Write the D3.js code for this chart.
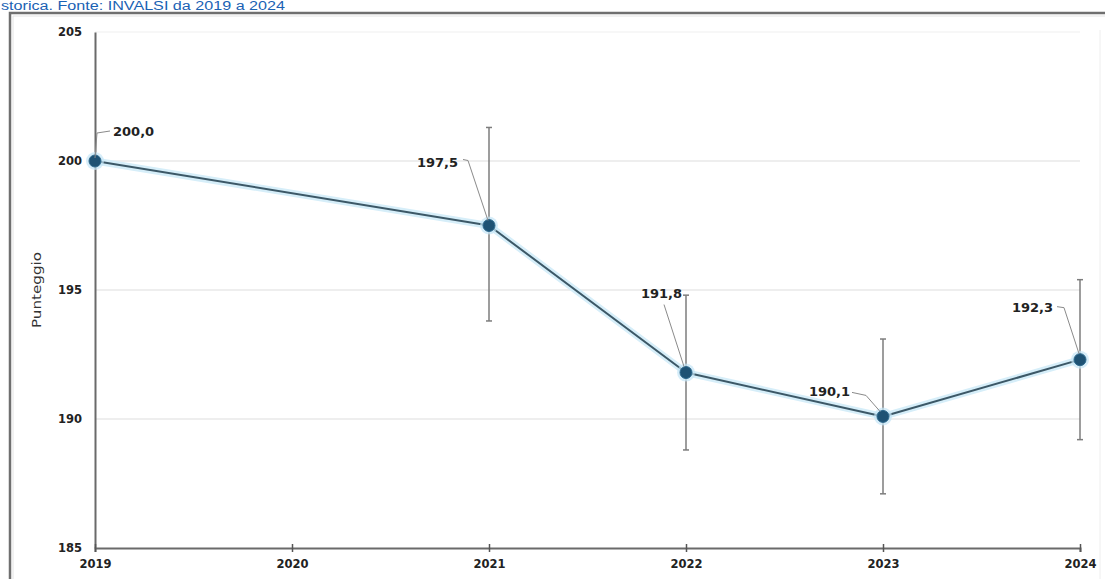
<!DOCTYPE html>
<html>
<head>
<meta charset="utf-8">
<script src="https://cdn.jsdelivr.net/npm/d3@7/dist/d3.min.js"></script>
<style>
html,body{margin:0;padding:0;background:#fff;overflow:hidden;}
svg{display:block;}
</style>
</head>
<body>
<svg id="chart" width="1105" height="579"></svg>
<script>
// ---- data ----
const titleText = "storica. Fonte: INVALSI da 2019 a 2024";
const yAxisTitle = "Punteggio";
const years = [2019, 2021, 2022, 2023, 2024];
const scores = [200.0, 197.5, 191.8, 190.1, 192.3];
const ciLow = [null, 193.8, 188.8, 187.1, 189.2];
const ciHigh = [null, 201.3, 194.8, 193.1, 195.4];
const xTickValues = [2019, 2020, 2021, 2022, 2023, 2024];
const yTickValues = [185, 190, 195, 200, 205];

// label placement (relative to the point): text anchor and leader path
const labelLayout = [
  {dx: 18, dy: -25, anchor: "start", leader: [[0,-3],[2,-28],[15,-30]]},
  {dx: -31, dy: -59, anchor: "end", leader: [[-26,-66],[-21,-65],[-1,-5]]},
  {dx: -4, dy: -75, anchor: "end", leader: [[-22,-68],[-2,-6]]},
  {dx: -33, dy: -20, anchor: "end", leader: [[-31,-24],[-17,-21],[-3,-5]]},
  {dx: -27, dy: -48, anchor: "end", leader: [[-23,-53],[-16,-52],[-1,-6]]}
];

const svg = d3.select("#chart");
const x = d3.scaleLinear().domain([2019, 2024]).range([95, 1080]);
const y = d3.scaleLinear().domain([185, 205]).range([548, 32]);
const fmt = v => d3.format(".1f")(v).replace(".", ",");

// title (top strip)
svg.append("text")
  .attr("x", 1).attr("y", 10)
  .attr("font-family", "'Liberation Sans', Arial, sans-serif")
  .attr("font-size", 12)
  .attr("textLength", 284).attr("lengthAdjust", "spacingAndGlyphs")
  .attr("fill", "#1a62b4")
  .text(titleText);

// frame
svg.append("path")
  .attr("d", "M10,579 L10,13 L1105,13")
  .attr("fill", "none").attr("stroke", "#6f6f6f").attr("stroke-width", 2.5);
svg.append("path")
  .attr("d", "M13,579 L13,16 L1105,16")
  .attr("fill", "none").attr("stroke", "#e4e4e4").attr("stroke-width", 1);
svg.append("line")
  .attr("x1", 1100).attr("x2", 1100).attr("y1", 30).attr("y2", 579)
  .attr("stroke", "#eeeeee").attr("stroke-width", 1);

// gridlines
svg.append("g")
  .selectAll("line")
  .data(yTickValues.filter(v => v > 185))
  .join("line")
  .attr("x1", x(2019)).attr("x2", x(2024))
  .attr("y1", d => y(d)).attr("y2", d => y(d))
  .attr("stroke", d => d === 205 ? "#f0f0f0" : "#dddddd")
  .attr("stroke-width", 1.2);

// y axis
const yAxis = svg.append("g")
  .attr("transform", `translate(${x(2019)},0)`)
  .call(d3.axisLeft(y).tickValues(yTickValues).tickSize(0).tickPadding(13).tickFormat(d3.format("d")));
yAxis.select(".domain").attr("stroke", "#6a6a6a").attr("stroke-width", 2);
yAxis.selectAll("text")
  .attr("font-family", "'DejaVu Sans', Verdana, sans-serif")
  .attr("font-weight", "bold").attr("font-size", 11.5).attr("fill", "#222");

// x axis
const xAxis = svg.append("g")
  .attr("transform", `translate(0,${y(185)})`)
  .call(d3.axisBottom(x).tickValues(xTickValues).tickSize(4).tickPadding(8).tickFormat(d3.format("d")));
xAxis.select(".domain").attr("stroke", "#6a6a6a").attr("stroke-width", 2);
xAxis.selectAll(".tick line").attr("y1", -4).attr("y2", 4).attr("stroke", "#555").attr("stroke-width", 1.5);
xAxis.selectAll("text")
  .attr("font-family", "'DejaVu Sans', Verdana, sans-serif")
  .attr("font-weight", "bold").attr("font-size", 11.5).attr("fill", "#222");

// y axis title
svg.append("text")
  .attr("transform", `translate(41,290) rotate(-90)`)
  .attr("text-anchor", "middle")
  .attr("font-family", "'DejaVu Sans', Verdana, sans-serif")
  .attr("font-size", 12)
  .attr("textLength", 76).attr("lengthAdjust", "spacingAndGlyphs")
  .attr("fill", "#333")
  .text(yAxisTitle);

const pts = years.map((yr, i) => ({yr, v: scores[i], lo: ciLow[i], hi: ciHigh[i], i}));

// error bars
const eb = svg.append("g").selectAll("g").data(pts.filter(d => d.lo !== null)).join("g");
eb.append("line")
  .attr("x1", d => x(d.yr)).attr("x2", d => x(d.yr))
  .attr("y1", d => y(d.hi)).attr("y2", d => y(d.lo))
  .attr("stroke", "#7d7d7d").attr("stroke-width", 1.5);
eb.append("line")
  .attr("x1", d => x(d.yr) - 3).attr("x2", d => x(d.yr) + 3)
  .attr("y1", d => y(d.hi)).attr("y2", d => y(d.hi))
  .attr("stroke", "#7d7d7d").attr("stroke-width", 1.5);
eb.append("line")
  .attr("x1", d => x(d.yr) - 3).attr("x2", d => x(d.yr) + 3)
  .attr("y1", d => y(d.lo)).attr("y2", d => y(d.lo))
  .attr("stroke", "#7d7d7d").attr("stroke-width", 1.5);

// line with glow
const line = d3.line().x(d => x(d.yr)).y(d => y(d.v));
svg.append("path").datum(pts).attr("d", line)
  .attr("fill", "none").attr("stroke", "#d6eef9").attr("stroke-width", 7).attr("stroke-linejoin", "round");
svg.append("path").datum(pts).attr("d", line)
  .attr("fill", "none").attr("stroke", "#3c5867").attr("stroke-width", 2).attr("stroke-linejoin", "round");

// points
svg.append("g").selectAll("circle.halo").data(pts).join("circle")
  .attr("class", "halo")
  .attr("cx", d => x(d.yr)).attr("cy", d => y(d.v)).attr("r", 9)
  .attr("fill", "#c5e6f6").attr("opacity", 0.7);
svg.append("g").selectAll("circle.pt").data(pts).join("circle")
  .attr("class", "pt")
  .attr("cx", d => x(d.yr)).attr("cy", d => y(d.v)).attr("r", 6)
  .attr("fill", "#1e5274").attr("stroke", "#2f6a8e").attr("stroke-width", 1);

// labels + leaders
const lg = svg.append("g").selectAll("g").data(pts).join("g")
  .attr("transform", d => `translate(${x(d.yr)},${y(d.v)})`);
lg.append("path")
  .attr("d", d => d3.line()(labelLayout[d.i].leader))
  .attr("fill", "none").attr("stroke", "#8a8a8a").attr("stroke-width", 1);
lg.append("text")
  .attr("x", d => labelLayout[d.i].dx).attr("y", d => labelLayout[d.i].dy)
  .attr("text-anchor", d => labelLayout[d.i].anchor)
  .attr("font-family", "'DejaVu Sans', Verdana, sans-serif")
  .attr("font-weight", "bold").attr("font-size", 13).attr("fill", "#222")
  .text(d => fmt(d.v));
</script>
</body>
</html>
